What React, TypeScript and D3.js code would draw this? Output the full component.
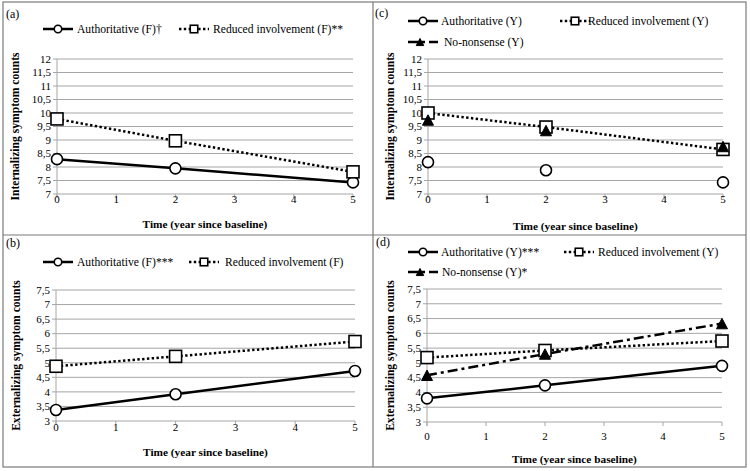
import React from "react";
import * as d3 from "d3";

const years = [0, 2, 5];
const xTicks = [0, 1, 2, 3, 4, 5];
const internalTicks = [7, 7.5, 8, 8.5, 9, 9.5, 10, 10.5, 11, 11.5, 12];
const externalTicks = [3, 3.5, 4, 4.5, 5, 5.5, 6, 6.5, 7, 7.5];

const aAuthoritative = [8.29, 7.95, 7.43];
const aReduced = [9.78, 8.97, 7.82];
const bAuthoritative = [3.38, 3.92, 4.72];
const bReduced = [4.88, 5.22, 5.73];
const cAuthoritative = [8.18, 7.88, 7.43];
const cReduced = [10.0, 9.48, 8.65];
const cNoNonsense = [9.74, 9.35, 8.76];
const dAuthoritative = [3.8, 4.24, 4.9];
const dReduced = [5.18, 5.42, 5.74];
const dNoNonsense = [4.58, 5.3, 6.33];

const FONT = "'Liberation Serif', 'Times New Roman', serif";
const GRID = "#a6a6a6";
const BORDER = "#7a7a7a";

type Kind = "auth" | "reduced" | "nonsense";
type Series = { kind: Kind; values: number[]; line: boolean };
type LegendItem = { kind: Kind; label: string; x: number; y: number; textX: number };

const dashFor = (k: Kind) => (k === "auth" ? undefined : k === "reduced" ? "2.4 2.4" : "10 4 3 4");

function Marker({ kind, cx, cy, s }: { kind: Kind; cx: number; cy: number; s: number }) {
  if (kind === "auth") return <circle cx={cx} cy={cy} r={s / 2} fill="#fff" stroke="#000" strokeWidth={1.6} />;
  if (kind === "reduced")
    return <rect x={cx - s / 2} y={cy - s / 2} width={s} height={s} fill="#fff" stroke="#000" strokeWidth={1.6} />;
  const h = s * 0.95;
  return (
    <path
      d={`M${cx},${cy - h / 2}L${cx + s / 2},${cy + h / 2}L${cx - s / 2},${cy + h / 2}Z`}
      fill="#000"
      stroke="#000"
      strokeWidth={1}
    />
  );
}

type PanelProps = {
  tag: string;
  tagX: number;
  tagY: number;
  x0: number;
  x1: number;
  yTop: number;
  yBot: number;
  ticks: number[];
  series: Series[];
  legend: LegendItem[];
  tickY: number;
  titleY: number;
  yTitle: string;
  yTitleX: number;
};

function Panel(p: PanelProps) {
  const x = d3.scaleLinear().domain([0, 5]).range([p.x0, p.x1]);
  const y = d3.scaleLinear().domain([p.ticks[0], p.ticks[p.ticks.length - 1]]).range([p.yBot, p.yTop]);
  const line = d3
    .line<number>()
    .x((_, i) => x(years[i]))
    .y((v) => y(v));
  const fmt = (v: number) => String(v).replace(".", ",");
  return (
    <g fontFamily={FONT}>
      <text x={p.tagX} y={p.tagY} fontSize={12}>
        {p.tag}
      </text>
      {p.ticks.map((t) => (
        <g key={t}>
          <line x1={p.x0 - 4} x2={p.x1} y1={y(t)} y2={y(t)} stroke={GRID} strokeWidth={1} />
          <text x={p.x0 - 6} y={y(t) + 3.8} fontSize={11} textAnchor="end">
            {fmt(t)}
          </text>
        </g>
      ))}
      <line x1={p.x0} x2={p.x0} y1={p.yTop} y2={p.yBot + 4} stroke={GRID} strokeWidth={1} />
      {xTicks.map((t) => (
        <g key={t}>
          <line x1={x(t)} x2={x(t)} y1={p.yBot} y2={p.yBot + 4} stroke={GRID} strokeWidth={1} />
          <text x={x(t)} y={p.tickY} fontSize={11} textAnchor="middle">
            {t}
          </text>
        </g>
      ))}
      <text x={(p.x0 + p.x1) / 2} y={p.titleY} fontSize={11.3} fontWeight="bold" textAnchor="middle">
        Time (year since baseline)
      </text>
      <text
        transform={`translate(${p.yTitleX},${(p.yTop + p.yBot) / 2}) rotate(-90)`}
        fontSize={11.6}
        fontWeight="bold"
        textAnchor="middle"
        dominantBaseline="central"
      >
        {p.yTitle}
      </text>
      {p.series
        .filter((s) => s.line)
        .map((s, i) => (
          <path
            key={"l" + i}
            d={line(s.values) || ""}
            fill="none"
            stroke="#000"
            strokeWidth={2.5}
            strokeDasharray={dashFor(s.kind)}
          />
        ))}
      {p.series.map((s, i) =>
        s.values.map((v, j) => (
          <Marker key={"m" + i + "-" + j} kind={s.kind} cx={x(years[j])} cy={y(v)} s={s.kind === "reduced" ? 12 : 11} />
        ))
      )}
      {p.legend.map((l, i) => (
        <g key={"lg" + i}>
          <line
            x1={l.x - 15}
            x2={l.x + 15}
            y1={l.y}
            y2={l.y}
            stroke="#000"
            strokeWidth={2.5}
            strokeDasharray={dashFor(l.kind)}
          />
          <Marker kind={l.kind} cx={l.kind === "nonsense" ? l.x - 3 : l.x} cy={l.y} s={7.5} />
          <text x={l.textX} y={l.y + 4} fontSize={11.6}>
            {l.label}
          </text>
        </g>
      ))}
    </g>
  );
}

export default function App() {
  return (
    <svg width={750} height={471} style={{ position: "absolute", left: 0, top: 0, background: "#fff" }}>
      <rect x={0} y={0} width={750} height={471} fill="#fff" />
      <rect x={3} y={2} width={743} height={465} fill="none" stroke={BORDER} strokeWidth={1.2} />
      <line x1={373} x2={373} y1={2} y2={467} stroke={BORDER} strokeWidth={1.2} />
      <line x1={3} x2={746} y1={235} y2={235} stroke={BORDER} strokeWidth={1.2} />
      <Panel
        tag="(a)"
        tagX={6}
        tagY={18}
        x0={57}
        x1={353}
        yTop={59}
        yBot={194}
        ticks={internalTicks}
        series={[
          { kind: "auth", values: aAuthoritative, line: true },
          { kind: "reduced", values: aReduced, line: true },
        ]}
        legend={[
          { kind: "auth", label: "Authoritative (F)†", x: 58, y: 29, textX: 77 },
          { kind: "reduced", label: "Reduced involvement (F)**", x: 194, y: 29, textX: 213 },
        ]}
        tickY={203}
        titleY={228}
        yTitle="Internalizing symptom counts"
        yTitleX={15}
      />
      <Panel
        tag="(c)"
        tagX={375}
        tagY={17}
        x0={428}
        x1={723}
        yTop={59}
        yBot={194}
        ticks={internalTicks}
        series={[
          { kind: "auth", values: cAuthoritative, line: false },
          { kind: "reduced", values: cReduced, line: true },
          { kind: "nonsense", values: cNoNonsense, line: false },
        ]}
        legend={[
          { kind: "auth", label: "Authoritative (Y)", x: 423, y: 21, textX: 441 },
          { kind: "reduced", label: "Reduced involvement (Y)", x: 575, y: 21, textX: 588 },
          { kind: "nonsense", label: "No-nonsense (Y)", x: 423, y: 42, textX: 444 },
        ]}
        tickY={203}
        titleY={230}
        yTitle="Internalizing symptom counts"
        yTitleX={390}
      />
      <Panel
        tag="(b)"
        tagX={6}
        tagY={247}
        x0={56}
        x1={355}
        yTop={290}
        yBot={421}
        ticks={externalTicks}
        series={[
          { kind: "auth", values: bAuthoritative, line: true },
          { kind: "reduced", values: bReduced, line: true },
        ]}
        legend={[
          { kind: "auth", label: "Authoritative (F)***", x: 58, y: 262, textX: 77 },
          { kind: "reduced", label: "Reduced involvement (F)", x: 204, y: 262, textX: 225 },
        ]}
        tickY={431}
        titleY={456}
        yTitle="Externalizing symptom counts"
        yTitleX={16}
      />
      <Panel
        tag="(d)"
        tagX={376}
        tagY={246}
        x0={427}
        x1={722}
        yTop={289}
        yBot={422}
        ticks={externalTicks}
        series={[
          { kind: "auth", values: dAuthoritative, line: true },
          { kind: "reduced", values: dReduced, line: true },
          { kind: "nonsense", values: dNoNonsense, line: true },
        ]}
        legend={[
          { kind: "auth", label: "Authoritative (Y)***", x: 423, y: 252, textX: 441 },
          { kind: "reduced", label: "Reduced involvement (Y)", x: 579, y: 252, textX: 598 },
          { kind: "nonsense", label: "No-nonsense (Y)*", x: 423, y: 272, textX: 442 },
        ]}
        tickY={440}
        titleY={463}
        yTitle="Externalizing symptom counts"
        yTitleX={390}
      />
    </svg>
  );
}
